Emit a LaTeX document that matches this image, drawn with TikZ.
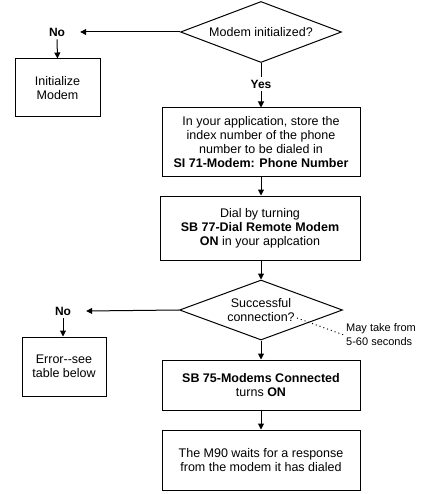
\documentclass[tikz,border=0pt]{standalone}
\usepackage{fontspec}
\setmainfont{Liberation Sans}
\usetikzlibrary{shapes.geometric,arrows.meta}

\tikzset{
  box/.style={draw,line width=1pt,align=center,inner sep=0pt},
  decision/.style={draw,line width=1pt,diamond,align=center,inner sep=0pt},
  answer/.style={font=\bfseries\fontsize{12}{14}\selectfont,inner xsep=15pt,inner ysep=3pt},
  arr/.style={line width=1pt,-{Triangle[length=6pt,width=6pt]}}
}

\begin{document}
\begin{tikzpicture}[x=1pt,y=-1pt,font=\fontsize{12.5}{14}\selectfont]
  \useasboundingbox (0,0) rectangle (424,494);

  \node[decision,minimum width=161pt,minimum height=61pt,aspect=2.64] (init?) at (261,32) {Modem initialized?};
  \node[answer] (no1) at (57,32) {No};
  \node[box,minimum width=85pt,minimum height=58pt] (initmodem) at (57.5,88) {Initialize\\Modem};
  \node[answer,inner xsep=0pt] (yes) at (261,84) {Yes};

  \node[box,minimum width=198pt,minimum height=69pt] (store) at (261,142.5)
    {In your application, store the\\index number of the phone\\number to be dialed in\\\textbf{SI 71-Modem: Phone Number}};
  \node[box,minimum width=200pt,minimum height=64pt] (dial) at (260,228)
    {Dial by turning\\\textbf{SB 77-Dial Remote Modem}\\\textbf{ON} in your applcation};

  \node[decision,minimum width=163pt,minimum height=60pt,aspect=2.7] (conn?) at (261,310) {Successful\\connection?};
  \node[answer] (no2) at (63,311) {No};
  \node[box,minimum width=84pt,minimum height=59pt] (error) at (64,366.5) {Error-{}-see\\table below};

  \coordinate (tip) at (297,318);
  \node[align=left,anchor=west,inner sep=2pt,font=\fontsize{11}{14}\selectfont] (note) at (344,335) {May take from\\5-60 seconds};

  \node[box,minimum width=198pt,minimum height=50pt] (connected) at (261,385)
    {\textbf{SB 75-Modems Connected}\\turns \textbf{ON}};
  \node[box,minimum width=198pt,minimum height=60pt] (wait) at (261,460)
    {The M90 waits for a response\\from the modem it has dialed};

  \draw[arr] (init?.west) -- (no1.east);
  \draw[arr] (no1.south) -- (initmodem.north);
  \draw[line width=1pt] (init?.south) -- (yes.north);
  \draw[arr] (yes.south) -- (store.north);
  \draw[arr] (store.south) -- (dial.north -| store.south);
  \draw[arr] (dial.south -| conn?.north) -- (conn?.north);
  \draw[arr] (conn?.west) -- (no2.east);
  \draw[arr] (no2.south) -- (error.north -| no2.south);
  \draw[arr] (conn?.south) -- (connected.north);
  \draw[arr] (connected.south) -- (wait.north);
  \draw[line width=1pt,dash pattern=on 1pt off 3pt] (tip) -- (note.west);
\end{tikzpicture}
\end{document}
